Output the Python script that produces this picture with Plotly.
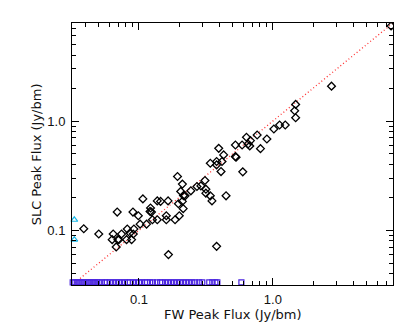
import plotly.graph_objects as go

# Matched sources: FW peak flux vs SLC peak flux (Jy/bm)
fw_flux = [7.63, 2.74, 1.479, 1.454, 1.479, 1.237, 1.122, 1.017, 0.902, 0.763,
           0.808, 0.635, 0.680, 0.653, 0.672, 0.589, 0.525, 0.525, 0.531, 0.596,
           0.394, 0.429, 0.341, 0.380, 0.380, 0.417, 0.410, 0.447, 0.380, 0.194,
           0.211, 0.205, 0.215, 0.221, 0.244, 0.271, 0.290, 0.311, 0.316, 0.316,
           0.341, 0.351, 0.197, 0.211, 0.214, 0.200, 0.186, 0.165, 0.160, 0.160,
           0.166, 0.137, 0.145, 0.126, 0.137, 0.122, 0.121, 0.124, 0.114, 0.107,
           0.102, 0.0989, 0.0902, 0.0917, 0.0881, 0.0856, 0.0808, 0.0818, 0.0741,
           0.0688, 0.0696, 0.0676, 0.0642, 0.0631, 0.0501, 0.0387, 0.0708, 0.0907]
slc_flux = [7.40, 2.085, 1.419, 1.242, 1.073, 0.919, 0.919, 0.845, 0.685, 0.745,
            0.559, 0.710, 0.662, 0.617, 0.592, 0.604, 0.604, 0.473, 0.466, 0.343,
            0.563, 0.490, 0.411, 0.426, 0.397, 0.426, 0.345, 0.207, 0.0714, 0.311,
            0.265, 0.227, 0.208, 0.207, 0.230, 0.252, 0.255, 0.286, 0.238, 0.219,
            0.207, 0.186, 0.175, 0.184, 0.158, 0.136, 0.125, 0.186, 0.136, 0.125,
            0.060, 0.186, 0.184, 0.125, 0.125, 0.160, 0.149, 0.147, 0.114, 0.194,
            0.114, 0.136, 0.147, 0.103, 0.0822, 0.0946, 0.0822, 0.103, 0.0926,
            0.147, 0.0822, 0.0705, 0.0926, 0.0822, 0.0926, 0.1035, 0.0822, 0.0926]

# SLC-only sources (no FW detection), plotted at the left edge
slc_only_x = [0.0329, 0.0329]
slc_only_y = [0.125, 0.0822]

# FW-only sources (no SLC detection), plotted at the bottom edge
fw_only_x = [0.0320, 0.0331, 0.0343, 0.0355, 0.0367, 0.0380, 0.0393, 0.0407, 0.0422,
             0.0436, 0.0452, 0.0468, 0.0484, 0.0501, 0.0528, 0.0556, 0.0575, 0.0606,
             0.0638, 0.0672, 0.0708, 0.0746, 0.0785, 0.0827, 0.0856, 0.0902, 0.0950,
             0.100, 0.105, 0.111, 0.115, 0.121, 0.127, 0.136, 0.144, 0.149, 0.157,
             0.165, 0.174, 0.183, 0.193, 0.203, 0.214, 0.225, 0.237, 0.250, 0.263,
             0.282, 0.297, 0.335, 0.353, 0.372, 0.385, 0.582]
fw_only_y = [0.0334] * len(fw_only_x)

# one-to-one line
line_x = [0.0316, 7.9]
line_y = [0.0316, 7.9]

major_vals = [0.1, 1.0]
major_text = ["0.1", "1.0"]
minor_vals = [0.04, 0.05, 0.06, 0.07, 0.08, 0.09, 0.2, 0.3, 0.4, 0.5, 0.6, 0.7,
              0.8, 0.9, 2, 3, 4, 5, 6, 7]

x_title = "FW Peak Flux (Jy/bm)"
y_title = "SLC Peak Flux (Jy/bm)"

axis_range = [-1.5, 0.897]

fig = go.Figure()
fig.add_trace(go.Scatter(x=line_x, y=line_y, mode="lines",
                         line=dict(color="#ff3030", width=1.3, dash="1px,2.5px"),
                         hoverinfo="skip"))
fig.add_trace(go.Scatter(x=fw_only_x, y=fw_only_y, mode="markers", cliponaxis=False,
                         marker=dict(symbol="square-open", size=5,
                                     color="#4a24e0", line=dict(width=1.2, color="#4a24e0"))))
fig.add_trace(go.Scatter(x=fw_flux, y=slc_flux, mode="markers",
                         marker=dict(symbol="diamond-open", size=6,
                                     color="black", line=dict(width=1.3, color="black"))))
fig.add_trace(go.Scatter(x=slc_only_x, y=slc_only_y, mode="markers", cliponaxis=False,
                         marker=dict(symbol="triangle-up-open", size=6,
                                     color="#18b8e8", line=dict(width=1.2, color="#18b8e8"))))

tick_font = dict(family="Liberation Sans, Arial, sans-serif", size=13, color="#111")
title_font = dict(family="DejaVu Sans, sans-serif", size=13, color="#111")

common = dict(type="log", range=axis_range, showgrid=False, zeroline=False,
              showline=True, linecolor="black", linewidth=1, mirror="ticks",
              ticks="inside", ticklen=7, tickwidth=1, tickcolor="black",
              tickmode="array", tickvals=major_vals, ticktext=major_text,
              tickfont=tick_font, automargin=False,
              minor=dict(tickmode="array", tickvals=minor_vals, ticks="inside",
                         ticklen=4, tickwidth=1, tickcolor="black", showgrid=False))

fig.update_xaxes(**common, ticklabelstandoff=2)
fig.update_yaxes(**common, ticklabelstandoff=3)

fig.add_annotation(text=x_title, xref="paper", yref="paper", x=0.5, y=-0.113,
                   xanchor="center", yanchor="middle", showarrow=False, font=title_font)
fig.add_annotation(text=y_title, xref="paper", yref="paper", x=-0.111, y=0.5,
                   xanchor="center", yanchor="middle", showarrow=False, textangle=-90,
                   font=title_font)

# the page body adds an 8px offset, so the figure is sized to fit the window
fig.update_layout(width=407, height=324, showlegend=False,
                  paper_bgcolor="white", plot_bgcolor="white",
                  margin=dict(l=64, r=22, t=15, b=47))

fig.write_html("out.html")
